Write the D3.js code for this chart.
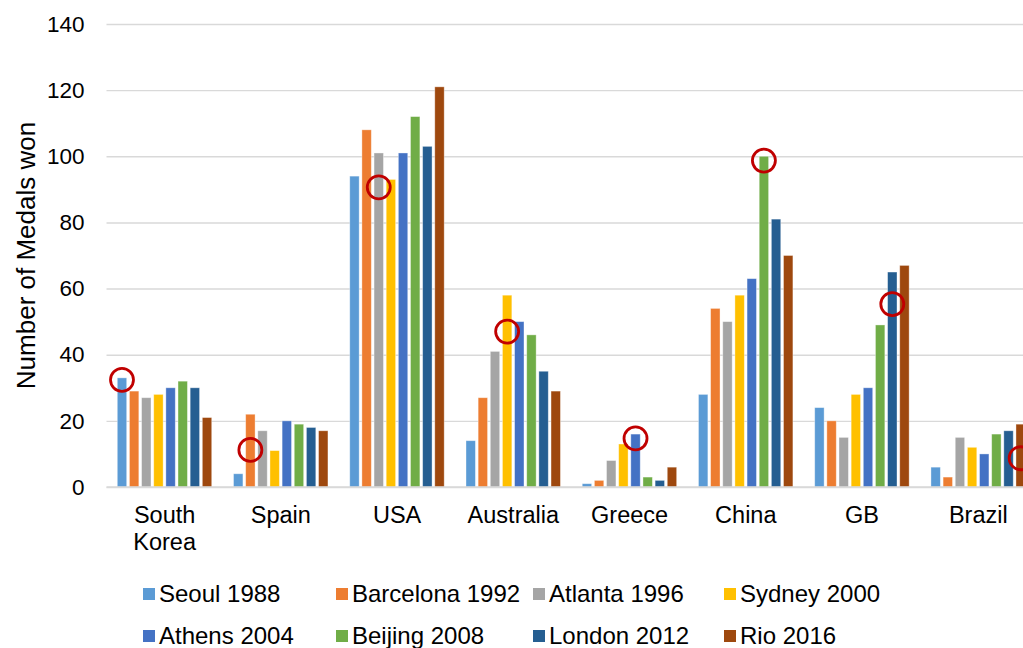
<!DOCTYPE html>
<html>
<head>
<meta charset="utf-8">
<script src="https://cdn.jsdelivr.net/npm/d3@7"></script>
<style>
  html, body { margin: 0; padding: 0; background: #fff; }
  svg { display: block; font-family: "Liberation Sans", Arial, sans-serif; }
</style>
</head>
<body>
<svg id="chart" width="1023" height="648"></svg>
<script>
// Countries on the category axis
const countries = ["South Korea", "Spain", "USA", "Australia", "Greece", "China", "GB", "Brazil"];

// One series per Summer Olympics
const games = ["Seoul 1988", "Barcelona 1992", "Atlanta 1996", "Sydney 2000",
               "Athens 2004", "Beijing 2008", "London 2012", "Rio 2016"];

// Medal totals, one array per Games, in country order
const seoul1988     = [33, 4, 94, 14, 1, 28, 24, 6];
const barcelona1992 = [29, 22, 108, 27, 2, 54, 20, 3];
const atlanta1996   = [27, 17, 101, 41, 8, 50, 15, 15];
const sydney2000    = [28, 11, 93, 58, 13, 58, 28, 12];
const athens2004    = [30, 20, 101, 50, 16, 63, 30, 10];
const beijing2008   = [32, 19, 112, 46, 3, 100, 49, 16];
const london2012    = [30, 18, 103, 35, 2, 81, 65, 17];
const rio2016       = [21, 17, 121, 29, 6, 70, 67, 19];

const seriesValues = [seoul1988, barcelona1992, atlanta1996, sydney2000,
                      athens2004, beijing2008, london2012, rio2016];

const colors = ["#5B9BD5", "#ED7D31", "#A5A5A5", "#FFC000",
                "#4472C4", "#70AD47", "#255E91", "#9E480E"];

// Host nation markers: each country circled at the Games it hosted
const hostGames  = ["Seoul 1988", "Barcelona 1992", "Atlanta 1996", "Sydney 2000",
                    "Athens 2004", "Beijing 2008", "London 2012", "Rio 2016"];
const hostMarkAt = [32.4, 11.2, 90.6, 47, 14.7, 98.7, 55.3, 8.7];

const yTicks = [0, 20, 40, 60, 80, 100, 120, 140];

const svg = d3.select("#chart");
const plot = { left: 106.5, right: 1036.4, top: 24, bottom: 487 };

const x0 = d3.scaleBand().domain(countries).range([plot.left, plot.right]).padding(0);
const x1 = d3.scaleBand().domain(games)
  .range([x0.bandwidth() * 0.081, x0.bandwidth() * 0.917])
  .paddingInner(0.226).paddingOuter(0.113);
const y = d3.scaleLinear().domain([0, 140]).range([plot.bottom, plot.top]);
const color = d3.scaleOrdinal().domain(games).range(colors);

// Gridlines and value labels
const yAxis = d3.axisLeft(y).tickValues(yTicks).tickSize(-(plot.right - plot.left)).tickPadding(22);
const gy = svg.append("g").attr("transform", `translate(${plot.left},0)`).call(yAxis);
gy.select(".domain").remove();
gy.selectAll(".tick line").attr("stroke", "#D9D9D9").attr("stroke-width", 1.4);
gy.selectAll(".tick text").attr("font-size", "22.5px").attr("fill", "#000")
  .attr("font-family", "'Liberation Sans', Arial, sans-serif");

// Bars
const rows = countries.map((c, i) => ({ country: c, values: games.map((g, j) => ({ game: g, value: seriesValues[j][i] })) }));

const groups = svg.append("g").selectAll("g").data(rows).join("g")
  .attr("transform", d => `translate(${x0(d.country)},0)`);

groups.selectAll("rect").data(d => d.values).join("rect")
  .attr("x", d => x1(d.game))
  .attr("y", d => y(d.value))
  .attr("width", x1.bandwidth())
  .attr("height", d => y(0) - y(d.value))
  .attr("fill", d => color(d.game))
  .attr("stroke", "#ffffff").attr("stroke-opacity", 0.45).attr("stroke-width", 0.8);

// Baseline
svg.append("line")
  .attr("x1", plot.left).attr("x2", plot.right)
  .attr("y1", y(0)).attr("y2", y(0))
  .attr("stroke", "#D9D9D9").attr("stroke-width", 1.6);

// Host markers
svg.append("g").selectAll("circle").data(countries).join("circle")
  .attr("cx", (c, i) => x0(c) + x1(hostGames[i]) + x1.bandwidth() / 2)
  .attr("cy", (c, i) => y(hostMarkAt[i]))
  .attr("r", 11.5)
  .attr("fill", "none")
  .attr("stroke", "#C00000")
  .attr("stroke-width", 2.8);

// Category labels (wrapped onto two lines where needed)
const xAxis = d3.axisBottom(x0).tickSize(0).tickPadding(0);
const gx = svg.append("g").attr("transform", `translate(0,${plot.bottom})`).call(xAxis);
gx.select(".domain").remove();
gx.selectAll(".tick text").each(function(d) {
  const t = d3.select(this).text(null)
    .attr("font-size", "23.5px").attr("fill", "#000")
    .attr("font-family", "'Liberation Sans', Arial, sans-serif")
    .attr("y", 0).attr("dy", null);
  d.split(" ").length > 1 && d.length > 6
    ? d.split(" ").forEach((w, k) => t.append("tspan").attr("x", 0).attr("y", 36.3 + k * 26.7).text(w))
    : t.append("tspan").attr("x", 0).attr("y", 36.3).text(d);
});

// Axis title
svg.append("text")
  .attr("transform", `translate(35,${(plot.top + plot.bottom) / 2}) rotate(-90)`)
  .attr("text-anchor", "middle")
  .attr("font-size", "26px")
  .attr("fill", "#000")
  .text("Number of Medals won");

// Legend
const legendCols = [143, 336, 533, 724];
const legendRows = [594, 636];
const legend = svg.append("g").selectAll("g").data(games).join("g")
  .attr("transform", (g, i) => `translate(${legendCols[i % 4]},${legendRows[Math.floor(i / 4)]})`);
legend.append("rect").attr("x", 0).attr("y", -6).attr("width", 12).attr("height", 12)
  .attr("fill", g => color(g));
legend.append("text").attr("x", 16).attr("y", 0).attr("dy", "0.35em")
  .attr("font-size", "24px").attr("fill", "#000")
  .text(g => g);
</script>
</body>
</html>
